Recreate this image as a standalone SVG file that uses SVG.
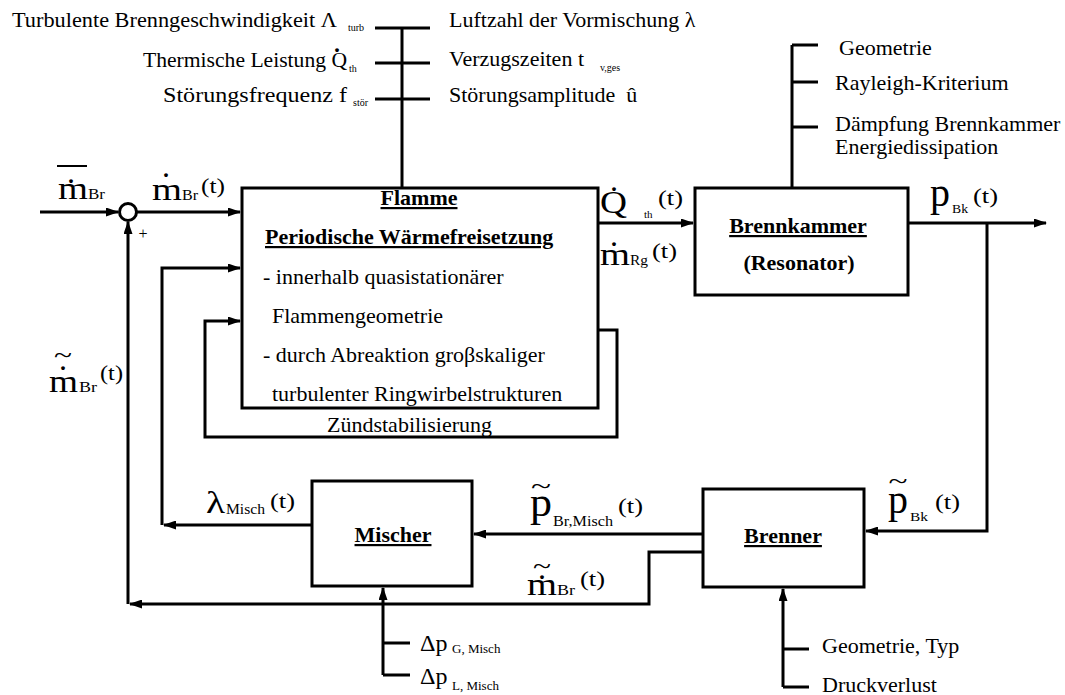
<svg xmlns="http://www.w3.org/2000/svg" width="1065" height="695" viewBox="0 0 1065 695">
<style>
text { font-family: "Liberation Serif", "Times New Roman", serif; fill: #000; }
.r { font-size: 22px; }
.bu { font-size: 22px; font-weight: bold; text-decoration: underline; }
.bd { font-size: 22px; font-weight: bold; }
.m { font-size: 31px; }
.p { font-size: 42px; }
.s { font-size: 14px; }
.s2 { font-size: 14px; }
.ss { font-size: 10px; }
.pt { font-size: 22px; }
.dot { font-size: 32px; text-anchor: middle; }
.til { font-size: 26px; text-anchor: middle; }
.c { text-anchor: middle; }
.box { fill: #fff; stroke: #000; stroke-width: 3; }
.ln { fill: none; stroke: #000; stroke-width: 3; }
.a { marker-end: url(#ah); }
</style>
<defs>
<marker id="ah" markerWidth="13" markerHeight="9" refX="12" refY="4.5" orient="auto" markerUnits="userSpaceOnUse">
<path d="M0,0 L13,4.5 L0,9 z" fill="#000"/>
</marker>
</defs>
<rect width="1065" height="695" fill="#fff"/>

<g id="connectors" class="ln">
<path d="M402,28 V188"/>
<path d="M375,28 H430 M375,63 H430 M375,99 H430"/>
<path d="M792,45 V188 M792,45 H818 M792,82 H818 M792,127 H818"/>
<path class="a" d="M40,212 H118"/>
<path class="a" d="M137,212 H240"/>
<path class="a" d="M598,223 H693"/>
<path class="a" d="M908,223 H1046"/>
<path class="a" d="M987,223 V531 H866"/>
<path class="a" d="M703,534 H474"/>
<path class="a" d="M703,552 H649 V604 H130"/>
<path class="a" d="M128,604 V222"/>
<path class="a" d="M312,525 H164"/>
<path class="a" d="M162,525 V268 H240"/>
<path class="a" d="M598,330 H617 V437 H205 V321 H240"/>
<path class="a" d="M383,675 V588"/>
<path d="M383,643 H410 M383,675 H410"/>
<path class="a" d="M783,687 V589"/>
<path d="M783,649 H809 M783,687 H809"/>
</g>

<g id="sum">
<circle cx="128" cy="212" r="8.5" fill="#fff" stroke="#000" stroke-width="3"/>
<text x="143" y="239" font-size="16" class="c">+</text>
</g>

<g id="flamme">
<rect class="box" x="242" y="188" width="356" height="220"/>
<text class="bu c" x="419" y="205">Flamme</text>
<text class="bu" x="265" y="244">Periodische Wärmefreisetzung</text>
<text class="r" x="263" y="284">- innerhalb quasistationärer</text>
<text class="r" x="272" y="323">Flammengeometrie</text>
<text class="r" x="263" y="362">- durch Abreaktion groβskaliger</text>
<text class="r" x="272" y="401">turbulenter Ringwirbelstrukturen</text>
<text class="r" x="327" y="432">Zündstabilisierung</text>
</g>

<g id="brennkammer">
<rect class="box" x="695" y="188" width="213" height="107"/>
<text class="bu c" x="798" y="233">Brennkammer</text>
<text class="bd c" x="799" y="270">(Resonator)</text>
</g>

<g id="mischer">
<rect class="box" x="312" y="481" width="160" height="105"/>
<text class="bu c" x="393" y="542">Mischer</text>
</g>

<g id="brenner">
<rect class="box" x="703" y="489" width="161" height="98"/>
<text class="bu c" x="783" y="543">Brenner</text>
</g>

<g id="flamme-parameter">
<text class="r" x="12" y="27" textLength="325" lengthAdjust="spacingAndGlyphs">Turbulente Brenngeschwindigkeit Λ</text>
<text class="ss" x="348" y="31">turb</text>
<text class="r" x="143" y="67" textLength="204" lengthAdjust="spacingAndGlyphs">Thermische Leistung Q</text>
<text class="dot" x="337" y="52">.</text>
<text class="ss" x="349" y="72">th</text>
<text class="r" x="163" y="102" textLength="184" lengthAdjust="spacingAndGlyphs">Störungsfrequenz f</text>
<text class="ss" x="353" y="106">stör</text>
<text class="r" x="449" y="27">Luftzahl der Vormischung λ</text>
<text class="r" x="449" y="66">Verzugszeiten t</text>
<text class="ss" x="600" y="71">v,ges</text>
<text class="r" x="449" y="102">Störungsamplitude&#160; û</text>
</g>

<g id="brennkammer-parameter">
<text class="r" x="839" y="55">Geometrie</text>
<text class="r" x="835" y="90">Rayleigh-Kriterium</text>
<text class="r" x="835" y="131">Dämpfung Brennkammer</text>
<text class="r" x="835" y="154">Energiedissipation</text>
</g>

<g id="mischer-parameter">
<text x="420" y="651" font-size="24">Δp</text>
<text x="452" y="653" font-size="13">G, Misch</text>
<text x="420" y="684" font-size="24">Δp</text>
<text x="452" y="690" font-size="13">L, Misch</text>
</g>

<g id="brenner-parameter">
<text class="r" x="822" y="653">Geometrie, Typ</text>
<text class="r" x="822" y="692">Druckverlust</text>
</g>

<g id="labels">
<text class="m" x="58" y="199" textLength="30" lengthAdjust="spacingAndGlyphs">m</text>
<text class="dot" x="71" y="183">.</text>
<line x1="57" y1="166" x2="87" y2="166" stroke="#000" stroke-width="2"/>
<text class="s" x="88" y="199" textLength="17" lengthAdjust="spacingAndGlyphs">Br</text>

<text class="m" x="152" y="200" textLength="30" lengthAdjust="spacingAndGlyphs">m</text>
<text class="dot" x="166" y="177">.</text>
<text class="s" x="182" y="200" textLength="16" lengthAdjust="spacingAndGlyphs">Br</text>
<text class="pt" x="201" y="193" textLength="24" lengthAdjust="spacingAndGlyphs">(t)</text>

<text class="m" x="600" y="213" textLength="27" lengthAdjust="spacingAndGlyphs">Q</text>
<text class="dot" x="614" y="191">.</text>
<text x="644" y="218" font-size="11">th</text>
<text class="pt" x="658" y="205" textLength="25" lengthAdjust="spacingAndGlyphs">(t)</text>

<text class="m" x="600" y="265" textLength="30" lengthAdjust="spacingAndGlyphs">m</text>
<text class="dot" x="614" y="246">.</text>
<text class="s" x="630" y="265" font-size="13" textLength="18" lengthAdjust="spacingAndGlyphs">Rg</text>
<text class="pt" x="652" y="258" textLength="25" lengthAdjust="spacingAndGlyphs">(t)</text>

<text class="p" x="930" y="206" textLength="20" lengthAdjust="spacingAndGlyphs">p</text>
<text x="952" y="213" font-size="13" textLength="16" lengthAdjust="spacingAndGlyphs">Bk</text>
<text class="pt" x="973" y="203" textLength="25" lengthAdjust="spacingAndGlyphs">(t)</text>

<text class="til" x="898" y="489" textLength="19" lengthAdjust="spacingAndGlyphs">~</text>
<text class="p" x="888" y="513" textLength="20" lengthAdjust="spacingAndGlyphs">p</text>
<text x="910" y="521" font-size="13" textLength="18" lengthAdjust="spacingAndGlyphs">Bk</text>
<text class="pt" x="935" y="509" textLength="25" lengthAdjust="spacingAndGlyphs">(t)</text>

<text class="til" x="541" y="494" textLength="20" lengthAdjust="spacingAndGlyphs">~</text>
<text class="p" x="530" y="516" font-size="40" textLength="22" lengthAdjust="spacingAndGlyphs">p</text>
<text class="s2" x="553" y="526" textLength="60" lengthAdjust="spacingAndGlyphs">Br,Misch</text>
<text class="pt" x="618" y="513" textLength="25" lengthAdjust="spacingAndGlyphs">(t)</text>

<text class="til" x="542" y="574" textLength="18" lengthAdjust="spacingAndGlyphs">~</text>
<text class="dot" x="542" y="579">.</text>
<text class="m" x="527" y="595" textLength="30" lengthAdjust="spacingAndGlyphs">m</text>
<text class="s" x="557" y="595" textLength="18" lengthAdjust="spacingAndGlyphs">Br</text>
<text class="pt" x="580" y="586" textLength="25" lengthAdjust="spacingAndGlyphs">(t)</text>

<text class="til" x="63" y="363" textLength="18" lengthAdjust="spacingAndGlyphs">~</text>
<text class="dot" x="63" y="370">.</text>
<text class="m" x="49" y="392" textLength="29" lengthAdjust="spacingAndGlyphs">m</text>
<text class="s" x="79" y="392" textLength="18" lengthAdjust="spacingAndGlyphs">Br</text>
<text class="pt" x="100" y="380" textLength="23" lengthAdjust="spacingAndGlyphs">(t)</text>

<text x="206" y="513" font-size="32" textLength="19" lengthAdjust="spacingAndGlyphs">λ</text>
<text class="s2" x="226" y="514" textLength="39" lengthAdjust="spacingAndGlyphs">Misch</text>
<text class="pt" x="270" y="508" textLength="25" lengthAdjust="spacingAndGlyphs">(t)</text>
</g>
</svg>
